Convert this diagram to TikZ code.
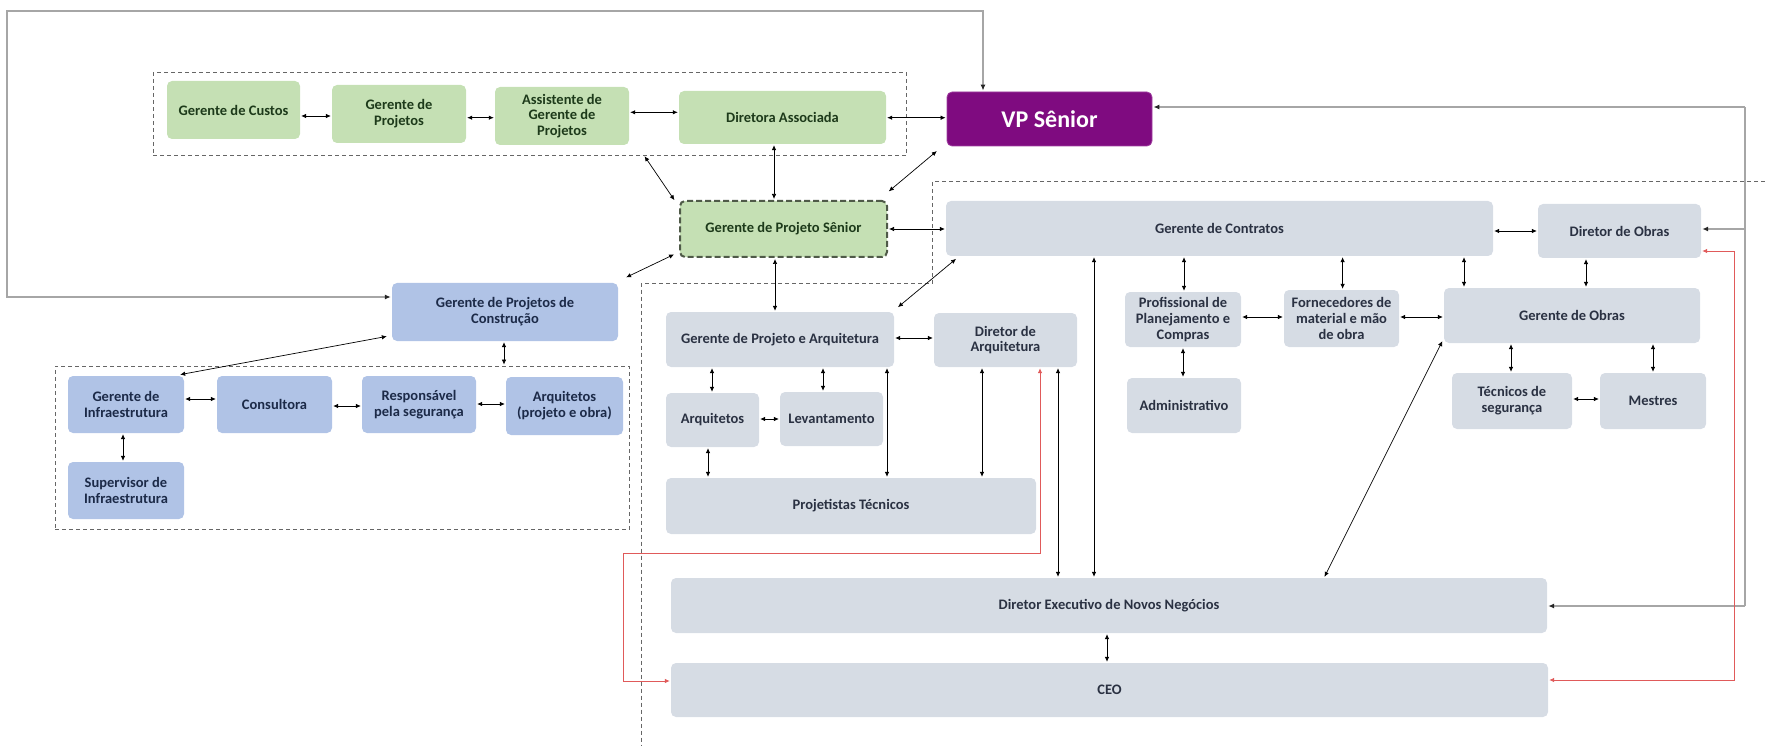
\documentclass[tikz,border=0pt]{standalone}
\usepackage{fontspec}
\setmainfont{Carlito}
\usetikzlibrary{arrows.meta}

\definecolor{boxgreen}{HTML}{C5E0B4}
\definecolor{boxblue}{HTML}{B0C3E6}
\definecolor{boxgray}{HTML}{D6DCE4}
\definecolor{txtgreen}{HTML}{1D3A1A}
\definecolor{txtblue}{HTML}{1C2A48}
\definecolor{txtgray}{HTML}{2A3142}
\definecolor{vppurple}{HTML}{7F0B80}
\definecolor{vpedge}{HTML}{A040A0}
\definecolor{gpsedge}{HTML}{4F5A48}
\definecolor{framegray}{HTML}{666666}
\definecolor{longgray}{HTML}{A6A6A6}
\definecolor{linkred}{HTML}{E05A5A}

\begin{document}
\begin{tikzpicture}[x=1pt,y=-1pt,
  orgbox/.style={rounded corners=5pt, inner sep=2pt, align=center,
    font=\bfseries\fontsize{14.5}{15.8}\selectfont},
  greenbox/.style={orgbox, fill=boxgreen, text=txtgreen},
  bluebox/.style={orgbox, fill=boxblue, text=txtblue},
  graybox/.style={orgbox, fill=boxgray, text=txtgray},
  wh/.style 2 args={minimum width=#1pt, minimum height=#2pt},
  grpframe/.style={draw=framegray, line width=0.8pt, dash pattern=on 4pt off 3pt},
  tipk/.tip={Latex[length=5pt,width=4.5pt]},
  tipg/.tip={Latex[length=6pt,width=5pt,color=black!85]},
  tipr/.tip={Latex[length=5pt,width=4.5pt]},
  biarr/.style={tipk-tipk, line width=0.7pt, shorten <=1pt, shorten >=1pt},
  gline/.style={draw=longgray, line width=1.3pt},
  rline/.style={draw=linkred, line width=0.8pt},
]
\useasboundingbox (0,0) rectangle (1765,746);

% ---- group frames ----
\node[grpframe, wh={753.7}{82.3}, inner sep=0pt] (fa) at (529.85,113.85) {};
\node[grpframe, wh={574.5}{163}, inner sep=0pt] (fb) at (342.25,447.5) {};
\draw[grpframe] (1765,181.7) -- (932.6,181.7) -- (932.6,283.3) -- (641,283.3) -- (641,746);

% ---- top group (green) ----
\node[greenbox, wh={133}{58}] (gc) at (233.5,110) {Gerente de Custos};
\node[greenbox, wh={134}{58}] (gp) at (399,114) {Gerente de\\Projetos};
\node[greenbox, wh={134}{58}] (agp) at (562,116) {Assistente de\\Gerente de\\Projetos};
\node[greenbox, wh={207}{53}] (da) at (782.5,117.5) {Diretora Associada};
\node[greenbox, wh={207}{56}, draw=gpsedge, line width=2pt, dash pattern=on 6pt off 3pt] (gps) at (783.5,229) {Gerente de Projeto Sênior};

\node[orgbox, wh={205}{54}, fill=vppurple, draw=vpedge, line width=0.8pt, text=white,
      font=\bfseries\fontsize{24}{28}\selectfont] (vp) at (1049.5,119) {VP Sênior};

% ---- construction projects group (blue) ----
\node[bluebox, wh={226}{58}] (gpc) at (505,312) {Gerente de Projetos de\\Construção};
\node[bluebox, wh={116}{57}] (gi) at (126,404.5) {Gerente de\\Infraestrutura};
\node[bluebox, wh={115}{57}] (cons) at (274.5,404.5) {Consultora};
\node[bluebox, wh={114}{57}] (resp) at (419,404.5) {Responsável\\pela segurança};
\node[bluebox, wh={117}{58}] (arqa) at (564.5,406) {Arquitetos\\(projeto e obra)};
\node[bluebox, wh={116}{57}] (sup) at (126,490.5) {Supervisor de\\Infraestrutura};

% ---- contracts / works group (gray) ----
\node[graybox, wh={547}{55}] (gdc) at (1219.5,228.5) {Gerente de Contratos};
\node[graybox, wh={163}{54}] (dob) at (1619.5,231) {Diretor de Obras};
\node[graybox, wh={228}{55}] (gpa) at (780,339.5) {Gerente de Projeto e Arquitetura};
\node[graybox, wh={143}{54}] (dar) at (1005.5,340) {Diretor de\\Arquitetura};
\node[graybox, wh={93}{54}] (arqb) at (712.5,420) {Arquitetos};
\node[graybox, wh={103}{54}] (lev) at (831.5,419) {Levantamento};
\node[graybox, wh={370}{56}] (proj) at (851,506) {Projetistas Técnicos};
\node[graybox, wh={116}{55}] (ppc) at (1183,319.5) {Profissional de\\Planejamento e\\Compras};
\node[graybox, wh={115}{57}] (forn) at (1341.5,318.5) {Fornecedores de\\material e mão\\de obra};
\node[graybox, wh={256}{55}] (gdo) at (1572,315.5) {Gerente de Obras};
\node[graybox, wh={114}{55}] (adm) at (1184,405.5) {Administrativo};
\node[graybox, wh={120}{56}] (tec) at (1512,401) {Técnicos de\\segurança};
\node[graybox, wh={106}{56}] (mes) at (1653,401) {Mestres};
\node[graybox, wh={876}{55}] (denn) at (1109,605.5) {Diretor Executivo de Novos Negócios};
\node[graybox, wh={877}{54}] (ceo) at (1109.5,690) {CEO};

% ---- horizontal links ----
\draw[biarr] (gc.east |- 0,116) -- (gp.west |- 0,116);
\draw[biarr] (gp.east |- 0,117.7) -- (agp.west |- 0,117.7);
\draw[biarr] (agp.east |- 0,112.3) -- (da.west |- 0,112.3);
\draw[biarr] (da.east |- 0,117.7) -- (vp.west |- 0,117.7);
\draw[biarr] (gps.east |- 0,229) -- (gdc.west |- 0,229);
\draw[biarr] (gdc.east |- 0,231) -- (dob.west |- 0,231);
\draw[biarr] (gpa.east |- 0,338) -- (dar.west |- 0,338);
\draw[biarr] (arqb.east |- 0,419) -- (lev.west |- 0,419);
\draw[biarr] (gi.east |- 0,399) -- (cons.west |- 0,399);
\draw[biarr] (cons.east |- 0,406) -- (resp.west |- 0,406);
\draw[biarr] (resp.east |- 0,404) -- (arqa.west |- 0,404);
\draw[biarr] (ppc.east |- 0,317) -- (forn.west |- 0,317);
\draw[biarr] (forn.east |- 0,317) -- (gdo.west |- 0,317);
\draw[biarr] (tec.east |- 0,399) -- (mes.west |- 0,399);

% ---- vertical links ----
\draw[biarr] (da.south -| 774,0) -- (gps.north -| 774,0);
\draw[biarr] (gps.south -| 775,0) -- (gpa.north -| 775,0);
\draw[biarr] (gpc.south -| 504,0) -- (fb.north -| 504,0);
\draw[biarr] (gi.south -| 123,0) -- (sup.north -| 123,0);
\draw[biarr] (gpa.south -| 712,0) -- (arqb.north -| 712,0);
\draw[biarr] (gpa.south -| 823,0) -- (lev.north -| 823,0);
\draw[biarr] (gpa.south -| 887,0) -- (proj.north -| 887,0);
\draw[biarr] (arqb.south -| 708,0) -- (proj.north -| 708,0);
\draw[biarr] (dar.south -| 982,0) -- (proj.north -| 982,0);
\draw[biarr] (gdc.south -| 1184,0) -- (ppc.north -| 1184,0);
\draw[biarr] (gdc.south -| 1342.6,0) -- (forn.north -| 1342.6,0);
\draw[biarr] (gdc.south -| 1464,0) -- (gdo.north -| 1464,0);
\draw[biarr] (dob.south -| 1586,0) -- (gdo.north -| 1586,0);
\draw[biarr] (ppc.south -| 1183,0) -- (adm.north -| 1183,0);
\draw[biarr] (gdo.south -| 1511,0) -- (tec.north -| 1511,0);
\draw[biarr] (gdo.south -| 1653,0) -- (mes.north -| 1653,0);
\draw[biarr] (denn.south -| 1107,0) -- (ceo.north -| 1107,0);
\draw[biarr] (dar.south -| 1058,0) -- (denn.north -| 1058,0);
\draw[biarr] (gdc.south -| 1094,0) -- (denn.north -| 1094,0);

% ---- diagonal links ----
\draw[biarr] (fa.south -| 644,0) -- ([shift={(-4,1)}]gps.north west);
\draw[biarr] ([shift={(-9,4)}]vp.south west) -- ([shift={(0,-8)}]gps.north east);
\draw[biarr] ([shift={(-4,-4)}]gps.south west) -- ([shift={(7,-5)}]gpc.north east);
\draw[biarr] ([shift={(11,2)}]gdc.south west) -- ([shift={(3,-4)}]gpa.north east);
\draw[biarr] ([shift={(-4,-5)}]gpc.south west) -- ([shift={(-5,-1)}]gi.north east);
\draw[biarr] ([shift={(-1,-3)}]gdo.south west) -- (denn.north -| 1324,0);

% ---- long gray reporting lines ----
\coordinate (loopbl) at (7,297);
\coordinate (looptl) at (7,11);
\coordinate (looptr) at (983,11);
\draw[gline, tipg-tipg, shorten <=1pt, shorten >=1pt]
  (gpc.west |- loopbl) -- (loopbl) -- (looptl) -- (looptr) -- (vp.north -| looptr);

\coordinate (rtop) at (1745,107);
\coordinate (rmid) at (1745,229);
\coordinate (rbot) at (1745,606);
\draw[gline] (rtop) -- (rbot);
\draw[gline, -tipg, shorten >=1pt] (rtop) -- (vp.east |- rtop);
\draw[gline, -tipg, shorten >=1pt] (rmid) -- (dob.east |- rmid);
\draw[gline, -tipg, shorten >=1pt] (rbot) -- (denn.east |- rbot);

% ---- red links ----
\coordinate (ra) at (1734,251);
\coordinate (rb) at (1734,680);
\draw[rline, tipr-tipr, shorten <=1pt, shorten >=1pt]
  (dob.east |- ra) -- (ra) -- (rb) -- (ceo.east |- rb);

\coordinate (la) at (1040,553);
\coordinate (lb) at (623,553);
\coordinate (lc) at (623,681);
\draw[rline, tipr-tipr, shorten <=1pt, shorten >=1pt]
  (dar.south -| la) -- (la) -- (lb) -- (lc) -- (ceo.west |- lc);
\end{tikzpicture}
\end{document}
